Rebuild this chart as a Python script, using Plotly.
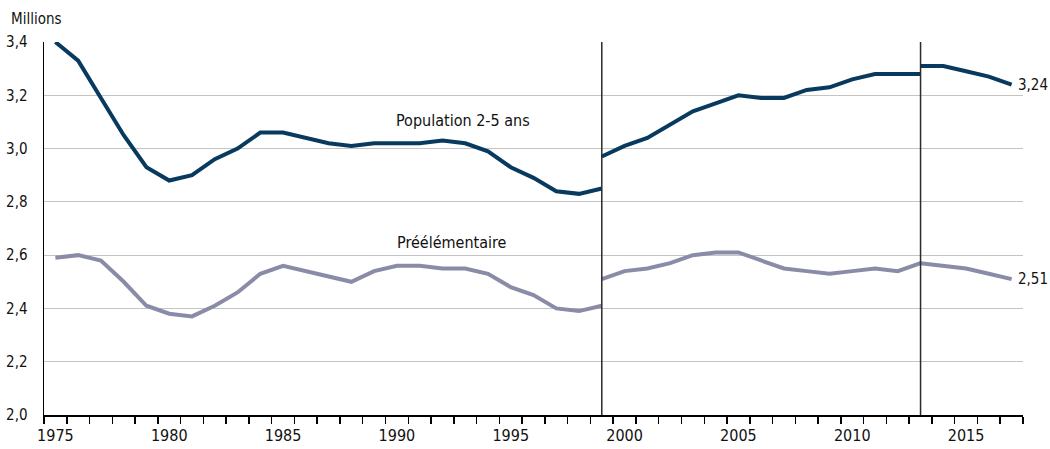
import plotly.graph_objects as go

# ---- data ----
years_a = [1975, 1976, 1977, 1978, 1979, 1980, 1981, 1982, 1983, 1984, 1985, 1986, 1987,
           1988, 1989, 1990, 1991, 1992, 1993, 1994, 1995, 1996, 1997, 1998, 1999]
pop_a = [3.40, 3.33, 3.19, 3.05, 2.93, 2.88, 2.90, 2.96, 3.00, 3.06, 3.06, 3.04, 3.02,
         3.01, 3.02, 3.02, 3.02, 3.03, 3.02, 2.99, 2.93, 2.89, 2.84, 2.83, 2.85]
pre_a = [2.59, 2.60, 2.58, 2.50, 2.41, 2.38, 2.37, 2.41, 2.46, 2.53, 2.56, 2.54, 2.52,
         2.50, 2.54, 2.56, 2.56, 2.55, 2.55, 2.53, 2.48, 2.45, 2.40, 2.39, 2.41]

years_b = [1999, 2000, 2001, 2002, 2003, 2004, 2005, 2006, 2007, 2008, 2009, 2010,
           2011, 2012, 2013]
pop_b = [2.97, 3.01, 3.04, 3.09, 3.14, 3.17, 3.20, 3.19, 3.19, 3.22, 3.23, 3.26,
         3.28, 3.28, 3.28]
pre_b = [2.51, 2.54, 2.55, 2.57, 2.60, 2.61, 2.61, 2.58, 2.55, 2.54, 2.53, 2.54,
         2.55, 2.54, 2.57]

years_c = [2013, 2014, 2015, 2016, 2017]
pop_c = [3.31, 3.31, 3.29, 3.27, 3.24]
pre_c = [2.57, 2.56, 2.55, 2.53, 2.51]

break_years = [1999, 2013]
label_years = [1975, 1980, 1985, 1990, 1995, 2000, 2005, 2010, 2015]
y_ticks = [2.0, 2.2, 2.4, 2.6, 2.8, 3.0, 3.2, 3.4]

series_pop_name = "Population 2-5 ans"
series_pre_name = "Préélémentaire"

NAVY = "#073a5e"
GREY = "#8a8ca7"
FONT = "Liberation Sans Narrow, DejaVu Sans Condensed, Arial Narrow, sans-serif"

# tick marks sit on the boundaries between years
all_years = years_a[:-1] + years_b[:-1] + years_c
x_min, x_max = all_years[0] - 0.5, all_years[-1] + 0.5
boundary_ticks = [y - 0.5 for y in all_years] + [x_max]

fig = go.Figure()

for xs, ys in [(years_a, pre_a), (years_b, pre_b), (years_c, pre_c)]:
    fig.add_trace(go.Scatter(x=xs, y=ys, mode="lines", name=series_pre_name,
                             line=dict(color=GREY, width=4), showlegend=False,
                             hoverinfo="skip", cliponaxis=False))
for xs, ys in [(years_a, pop_a), (years_b, pop_b), (years_c, pop_c)]:
    fig.add_trace(go.Scatter(x=xs, y=ys, mode="lines", name=series_pop_name,
                             line=dict(color=NAVY, width=4), showlegend=False,
                             hoverinfo="skip", cliponaxis=False))

# invisible trace to activate the label axis
fig.add_trace(go.Scatter(x=[x_min, x_max], y=[None, None], xaxis="x2", mode="lines",
                         showlegend=False, hoverinfo="skip"))

for by in break_years:
    fig.add_shape(type="line", xref="x", yref="y", x0=by, x1=by,
                  y0=y_ticks[0], y1=y_ticks[-1],
                  line=dict(color="#2b2b2b", width=1.5), layer="above")

# end value labels
fig.add_annotation(x=years_c[-1], y=pop_c[-1], xref="x", yref="y",
                   text=f"{pop_c[-1]:.2f}".replace(".", ","), showarrow=False,
                   xanchor="left", xshift=4, font=dict(size=15, color="#111111"))
fig.add_annotation(x=years_c[-1], y=pre_c[-1], xref="x", yref="y",
                   text=f"{pre_c[-1]:.2f}".replace(".", ","), showarrow=False,
                   xanchor="left", xshift=4, font=dict(size=15, color="#111111"))

# series labels
fig.add_annotation(x=1992.9, y=3.107, xref="x", yref="y", text=series_pop_name,
                   showarrow=False, font=dict(size=16, color="#111111"))
fig.add_annotation(x=1992.4, y=2.646, xref="x", yref="y", text=series_pre_name,
                   showarrow=False, font=dict(size=16, color="#111111"))

# unit label
fig.add_annotation(x=-0.036, y=1.062, xref="paper", yref="paper", text="Millions",
                   showarrow=False, xanchor="left", yanchor="middle",
                   font=dict(size=15, color="#111111"))

fig.update_layout(
    width=1050, height=449,
    margin=dict(l=44, r=27, t=42, b=34, autoexpand=False),
    paper_bgcolor="white", plot_bgcolor="white",
    separators=", ",
    font=dict(family=FONT, size=16, color="#111111"),
    xaxis=dict(
        range=[x_min, x_max],
        tickvals=boundary_ticks,
        ticktext=["" for _ in boundary_ticks],
        ticks="outside", ticklen=7, tickwidth=1.5, tickcolor="black",
        automargin=False,
        showgrid=False, zeroline=False,
        showline=True, linecolor="black", linewidth=1.5,
    ),
    xaxis2=dict(
        overlaying="x", anchor="y", side="bottom",
        range=[x_min, x_max],
        tickvals=label_years,
        ticks="",
        automargin=False,
        showgrid=False, zeroline=False, showline=False,
        ticklabelstandoff=9,
        tickfont=dict(size=16),
    ),
    yaxis=dict(
        range=[2.0, 3.4],
        tickvals=y_ticks,
        tickformat=".1f",
        ticks="",
        automargin=False,
        showgrid=True, gridcolor="#c4c4c4", gridwidth=1.2,
        zeroline=False,
        showline=True, linecolor="black", linewidth=1.5,
        ticklabelstandoff=12,
        tickfont=dict(size=15),
    ),
)

fig.write_html(
    "out.html",
    config={"displayModeBar": False, "staticPlot": True},
    post_script="document.body.style.margin='0';document.body.style.overflow='hidden';",
)
